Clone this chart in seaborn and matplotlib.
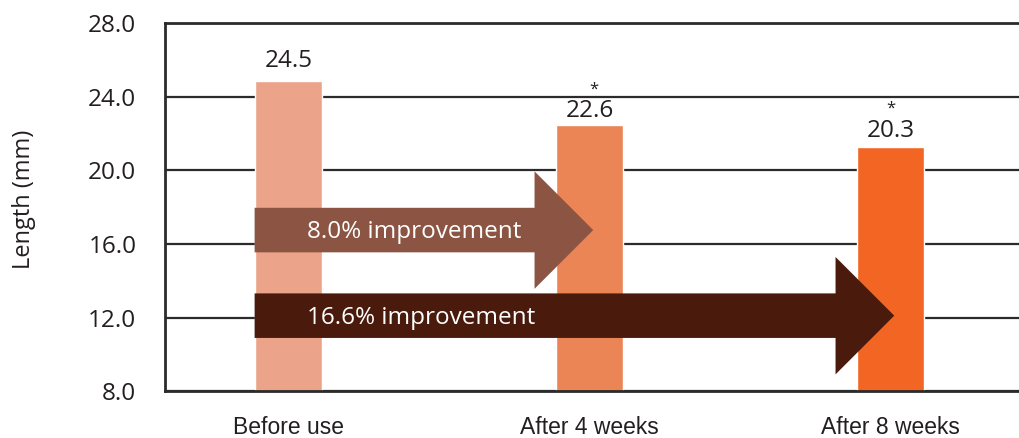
import pandas as pd
import numpy as np
import matplotlib.pyplot as plt
import seaborn as sns

# data
periods = ['Before use', 'After 4 weeks', 'After 8 weeks']
bar_heights = [24.85, 22.45, 21.27]      # drawn heights
bar_labels = ['24.5', '22.6', '20.3']    # printed values
significant = [False, True, True]
bar_colors = ['#EBA389', '#EC8556', '#F26522']

improvements = ['8.0% improvement', '16.6% improvement']
arrow_targets = [1, 2]          # arrow ends at this bar
arrow_levels = [16.75, 12.1]    # y of arrow axis (mm)
arrow_colors = ['#8B5443', '#4A1A0C']

df = pd.DataFrame({'Period': periods, 'Length': bar_heights})

sns.set_style('white')
plt.rcParams['font.family'] = ['Open Sans', 'DejaVu Sans']

fig = plt.figure(figsize=(10.19, 4.38), dpi=100)
ax = fig.add_axes([0.1624, 0.107, 0.8376, 0.8405])

sns.barplot(data=df, x='Period', y='Length', hue='Period', palette=bar_colors,
            width=0.225, legend=False, saturation=1, ax=ax, zorder=2)

ax.set_ylim(8, 28)
ax.set_xlim(-0.4086, 2.427)
ax.set_yticks(np.arange(8, 28.1, 4))
ax.set_yticklabels([f'{v:.1f}' for v in np.arange(8, 28.1, 4)], fontsize=17.5, color='#231f20')
ax.set_xticks(range(len(periods)))
ax.set_xticklabels(periods, fontsize=16.5, family='Liberation Sans', color='#231f20')
ax.tick_params(axis='y', length=0, pad=21)
ax.tick_params(axis='x', length=0, pad=18)

# horizontal grid lines behind bars
ax.set_axisbelow(True)
ax.yaxis.grid(True, color='#2b2b2b', linewidth=1.6)
ax.xaxis.grid(False)

for side in ['left', 'top', 'bottom']:
    ax.spines[side].set_visible(True)
    ax.spines[side].set_color('#2b2b2b')
    ax.spines[side].set_linewidth(2.0)
ax.spines['right'].set_visible(False)

ax.set_xlabel('')
ax.set_ylabel('Length (mm)', fontsize=17, color='#231f20')
ax.yaxis.set_label_coords(-0.152, 0.52)

# value labels + significance marks
label_pad = [6, 1.5, 3.0]
star_pad = [0, 20, 22]
for i, (h, lab, sig) in enumerate(zip(bar_heights, bar_labels, significant)):
    ax.annotate(lab, (i, h), xytext=(0, label_pad[i]), textcoords='offset points',
                ha='center', va='bottom', fontsize=17.5, color='#231f20')
    if sig:
        ax.annotate('*', (i, h), xytext=(3 if i == 1 else 0, star_pad[i]),
                    textcoords='offset points', ha='center', va='bottom',
                    fontsize=12, color='#231f20')

# improvement arrows drawn over the bars
start = -0.1125
for txt, tgt, lvl, col in zip(improvements, arrow_targets, arrow_levels, arrow_colors):
    ax.arrow(start, lvl, tgt + 0.0125 - start, 0, width=2.42, head_width=6.38,
             head_length=0.195, length_includes_head=True, color=col,
             linewidth=0, zorder=4)
    ax.text(0.062, lvl - 0.1, txt, color='white', fontsize=17.5, ha='left', va='center',
            zorder=5)

plt.savefig('out.png', dpi=100)
